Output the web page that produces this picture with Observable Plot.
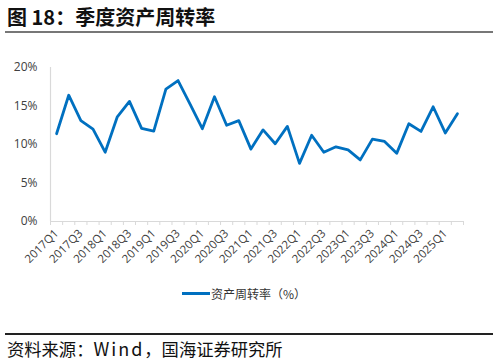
<!DOCTYPE html>
<html>
<head>
<meta charset="utf-8">
<script src="https://cdn.jsdelivr.net/npm/d3@7"></script>
<script src="https://cdn.jsdelivr.net/npm/@observablehq/plot@0.6"></script>
<style>
  html, body { margin: 0; padding: 0; background: #fff; }
  #wrap { position: relative; width: 498px; height: 362px; overflow: hidden; font-family: "Noto Sans CJK SC", "Noto Sans", sans-serif; }
  #title { position: absolute; left: 7px; top: 2px; font-size: 20px; font-weight: bold; color: #111; white-space: nowrap; }
  #tline { position: absolute; left: 5px; top: 31px; width: 488px; height: 2px; background: #777; }
  #chart { position: absolute; left: 0; top: 40px; }
  #legend { position: absolute; left: 182px; top: 285px; display: flex; align-items: center; font-size: 12px; color: #333; white-space: nowrap; }
  #legend .sw { display: inline-block; width: 28px; height: 3px; background: #0070C0; margin-right: 1px; }
  #fline { position: absolute; left: 5px; top: 333px; width: 488px; height: 1.5px; background: #222; }
  #footer { position: absolute; left: 7px; top: 335px; font-size: 17.3px; color: #111; white-space: nowrap; }
  #footer .w { letter-spacing: 2px; font-size: 18px; }
</style>
</head>
<body>
<div id="wrap">
  <div id="title">图 18：季度资产周转率</div>
  <div id="tline"></div>
  <div id="chart"></div>
  <div id="legend"><span class="sw"></span><span id="legtext"></span></div>
  <div id="fline"></div>
  <div id="footer">资料来源：<span class="w">Wind</span>，国海证券研究所</div>
</div>
<script>
const quarters = [
  "2017Q1","2017Q2","2017Q3","2017Q4",
  "2018Q1","2018Q2","2018Q3","2018Q4",
  "2019Q1","2019Q2","2019Q3","2019Q4",
  "2020Q1","2020Q2","2020Q3","2020Q4",
  "2021Q1","2021Q2","2021Q3","2021Q4",
  "2022Q1","2022Q2","2022Q3","2022Q4",
  "2023Q1","2023Q2","2023Q3","2023Q4",
  "2024Q1","2024Q2","2024Q3","2024Q4",
  "2025Q1","2025Q2"
];
const turnover = [
  11.4, 16.4, 13.1, 12.0,
  9.0, 13.6, 15.6, 12.1,
  11.75, 17.2, 18.3, 15.2,
  12.05, 16.2, 12.5, 13.1,
  9.4, 11.9, 10.1, 12.35,
  7.55, 11.2, 9.0, 9.7,
  9.3, 8.0, 10.7, 10.4,
  8.85, 12.7, 11.7, 14.9,
  11.5, 14.0
];
const yTicks = [0, 5, 10, 15, 20];
const seriesName = "资产周转率（%）";
document.getElementById("legtext").textContent = seriesName;

const data = quarters.map((q, i) => ({i, q, v: turnover[i]}));
const xDomain = [-0.5, quarters.length - 0.5];
const boundaries = d3.range(quarters.length + 1).map(k => k - 0.5);
const labelIdx = d3.range(0, quarters.length, 2);

const plot = Plot.plot({
  width: 498,
  height: 240,
  marginTop: 27,
  marginBottom: 59,
  marginLeft: 50,
  marginRight: 35,
  style: { fontFamily: "'Open Sans', 'Noto Sans CJK SC', sans-serif", color: "#404040", background: "transparent" },
  x: { type: "linear", domain: xDomain },
  y: { domain: [0, 20] },
  marks: [
    Plot.ruleX([xDomain[0]], { stroke: "#d9d9d9", strokeWidth: 1.2 }),
    Plot.ruleY([0], { stroke: "#d9d9d9", strokeWidth: 1.2 }),
    Plot.axisY({ ticks: yTicks, tickSize: 0, tickPadding: 13, tickFormat: d => d + "%", fontSize: 12, label: null, stroke: "none" }),
    Plot.axisX({ ticks: boundaries, tickSize: 4, tickFormat: () => "", stroke: "#d9d9d9", label: null }),
    Plot.axisX({ ticks: labelIdx, tickSize: 0, tickPadding: 10, tickRotate: -45, tickFormat: i => quarters[i], fontSize: 11.5, label: null }),
    Plot.lineY(data, { x: "i", y: "v", stroke: "#0070C0", strokeWidth: 2.8, strokeLinejoin: "round", strokeLinecap: "round" })
  ]
});
document.getElementById("chart").appendChild(plot);
</script>
</body>
</html>
